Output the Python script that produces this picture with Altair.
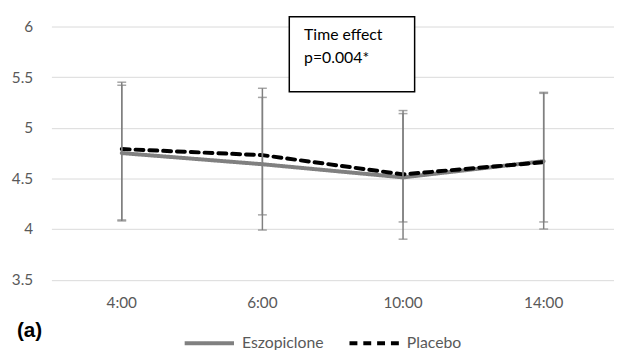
import altair as alt
import pandas as pd

times = ["4:00", "6:00", "10:00", "14:00"]
groups = ["Eszopiclone", "Placebo"]
esz_mean = [4.75, 4.64, 4.51, 4.67]
plac_mean = [4.79, 4.73, 4.54, 4.66]
esz_upper = [5.42, 5.30, 5.14, 5.34]
esz_lower = [4.08, 3.99, 3.90, 4.00]
plac_upper = [5.45, 5.39, 5.17, 5.35]
plac_lower = [4.09, 4.14, 4.07, 4.07]
y_ticks = [3.5, 4, 4.5, 5, 5.5, 6]
annotation = ["Time effect", "p=0.004*"]
panel_label = "(a)"

rows = []
for g, m, u, l in [(groups[0], esz_mean, esz_upper, esz_lower),
                   (groups[1], plac_mean, plac_upper, plac_lower)]:
    for t, mv, uv, lv in zip(times, m, u, l):
        rows.append({"time": t, "group": g, "mean": mv, "upper": uv, "lower": lv})
df = pd.DataFrame(rows)

FONT = "Lato"
GRAY = "#595959"

xscale = alt.Scale(domain=times, paddingInner=0, paddingOuter=0)
yscale = alt.Scale(domain=[3.5, 6])
xaxis = alt.Axis(labelAngle=0, labelPadding=16, grid=False, domain=False, ticks=False)
yaxis = alt.Axis(values=y_ticks, labelPadding=19, format="~g", domain=False,
                 ticks=False, gridColor="#d9d9d9")

x_main = alt.X("time:N", sort=times, title=None, scale=xscale, axis=xaxis)


def yenc(field):
    return alt.Y(field + ":Q", scale=yscale, title=None, axis=yaxis)


base = alt.Chart(df)

err = base.mark_rule(color="#808080", strokeWidth=1.5).encode(
    x=x_main, y=yenc("lower"), y2="upper:Q")
cap_lo = base.mark_tick(color="#808080", size=9, thickness=1.5, orient="horizontal").encode(
    x=x_main, y=yenc("lower"))
cap_hi = base.mark_tick(color="#808080", size=9, thickness=1.5, orient="horizontal").encode(
    x=x_main, y=yenc("upper"))

lines = base.mark_line(strokeWidth=4, strokeCap="round").encode(
    x=x_main, y=yenc("mean"),
    color=alt.Color("group:N", sort=groups,
                    scale=alt.Scale(domain=groups, range=["#808080", "#000000"]),
                    legend=alt.Legend(title=None, orient="none", direction="horizontal",
                                      legendX=133, legendY=294, symbolType="stroke",
                                      symbolSize=2500, symbolStrokeWidth=4,
                                      labelColor=GRAY, labelFontSize=16, labelFont=FONT,
                                      columnPadding=18, labelOffset=6, padding=0)),
    strokeDash=alt.StrokeDash("group:N", sort=groups,
                              scale=alt.Scale(domain=groups, range=[[1, 0], [8, 6]]),
                              legend=alt.Legend(title=None)),
)

box = alt.Chart(pd.DataFrame({"a": [0]})).mark_rect(
    fill="white", stroke="black", strokeWidth=1.5).encode(
    x=alt.value(241), x2=alt.value(368), y=alt.value(-10), y2=alt.value(66))
ann = alt.Chart(pd.DataFrame({"t": [annotation[0]]})).mark_text(
    align="left", baseline="middle", font=FONT, fontSize=16, color="black").encode(
    x=alt.value(256), y=alt.value(8.5), text="t:N")
ann2 = alt.Chart(pd.DataFrame({"t": [annotation[1]]})).mark_text(
    align="left", baseline="middle", font=FONT, fontSize=16, color="black").encode(
    x=alt.value(256), y=alt.value(31.5), text="t:N")
lab = alt.Chart(pd.DataFrame({"t": [panel_label]})).mark_text(
    align="left", baseline="middle", font="Liberation Sans", fontSize=21,
    fontWeight="bold", color="black").encode(
    x=alt.value(-35), y=alt.value(309), text="t:N")

chart = alt.layer(lines, err, cap_lo, cap_hi, box, ann, ann2, lab).properties(
    width=570, height=256.5,
    background="white",
    autosize=alt.AutoSizeParams(type="none"),
    padding={"left": 44, "top": 16.5, "right": 0, "bottom": 69},
).configure_view(strokeWidth=0, strokeOpacity=0).configure_axis(
    domain=False, ticks=False, labelColor=GRAY, labelFontSize=15.5, labelFont=FONT,
    gridWidth=1
).configure_axisX(domain=False, grid=False).configure_axisY(domain=False)

chart.save("out.html", embed_options={"renderer": "svg", "actions": False})
